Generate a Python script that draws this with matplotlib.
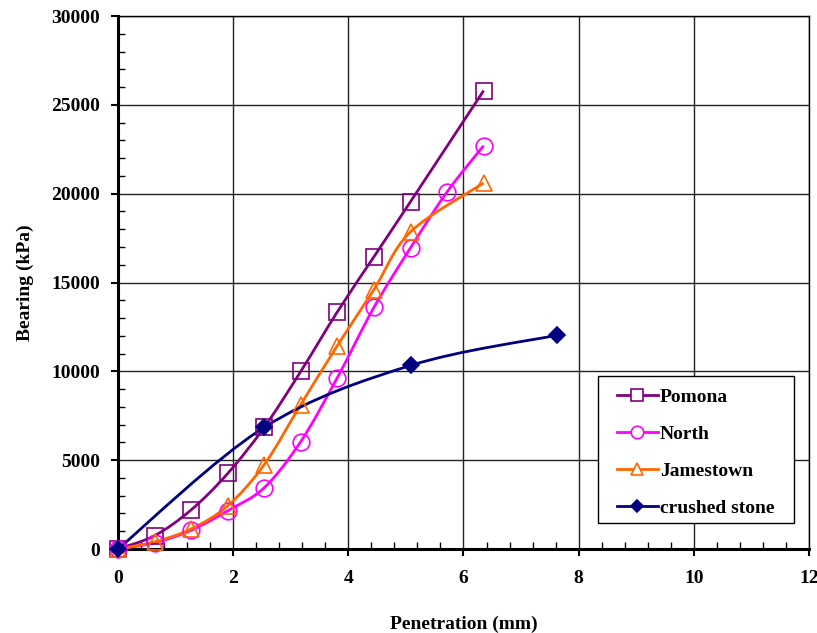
import matplotlib
matplotlib.use("Agg")
import matplotlib.pyplot as plt
from matplotlib.path import Path
from matplotlib.patches import PathPatch, Rectangle
from matplotlib.lines import Line2D
from matplotlib.ticker import MultipleLocator

# ---- data ----
pomona_x = [0, 0.635, 1.27, 1.905, 2.54, 3.175, 3.81, 4.445, 5.08, 6.35]
pomona_y = [0, 750, 2200, 4250, 6850, 10000, 13350, 16450, 19550, 25800]

north_x = [0, 0.635, 1.27, 1.905, 2.54, 3.175, 3.81, 4.445, 5.08, 5.715, 6.35]
north_y = [0, 350, 1050, 2150, 3450, 6050, 9650, 13600, 16950, 20100, 22700]

james_x = [0, 0.635, 1.27, 1.905, 2.54, 3.175, 3.81, 4.445, 5.08, 6.35]
james_y = [0, 400, 1130, 2430, 4750, 8130, 11450, 14600, 17850, 20600]

stone_x = [0, 2.54, 5.08, 7.62]
stone_y = [0, 6850, 10330, 12030]

series_names = ["Pomona", "North", "Jamestown", "crushed stone"]
x_label = "Penetration (mm)"
y_label = "Bearing (kPa)"

plt.rcParams['font.family'] = ['Liberation Serif', 'DejaVu Serif']
plt.rcParams['font.weight'] = 'bold'

FS = 14


def smooth_path(xs, ys):
    pts = list(zip(xs, ys))
    n = len(pts)
    verts = [pts[0]]
    codes = [Path.MOVETO]
    for i in range(n - 1):
        p0 = pts[i - 1] if i > 0 else pts[i]
        p1 = pts[i]
        p2 = pts[i + 1]
        p3 = pts[i + 2] if i + 2 < n else pts[i + 1]
        c1 = (p1[0] + (p2[0] - p0[0]) / 6.0, p1[1] + (p2[1] - p0[1]) / 6.0)
        c2 = (p2[0] - (p3[0] - p1[0]) / 6.0, p2[1] - (p3[1] - p1[1]) / 6.0)
        verts += [c1, c2, p2]
        codes += [Path.CURVE4] * 3
    return Path(verts, codes)


fig = plt.figure(figsize=(8.17, 6.33), dpi=100)
ax = fig.add_axes([0.1444, 0.1327, 0.8458, 0.842])

ax.set_xlim(0, 12)
ax.set_ylim(0, 30000)
ax.xaxis.set_major_locator(MultipleLocator(2))
ax.xaxis.set_minor_locator(MultipleLocator(0.4))
ax.yaxis.set_major_locator(MultipleLocator(5000))
ax.yaxis.set_minor_locator(MultipleLocator(1000))
ax.grid(True, which='major', color='#222222', linewidth=1.0)
ax.set_axisbelow(True)

for s in ax.spines.values():
    s.set_linewidth(1.0)
ax.spines['bottom'].set_linewidth(2.2)
ax.spines['left'].set_linewidth(2.2)

ax.tick_params(which='major', direction='out', length=5, width=1.5, labelsize=FS, pad=8)
ax.tick_params(axis='x', which='major', pad=10)
ax.tick_params(which='minor', direction='in', length=5, width=1.0)
for lab in ax.get_xticklabels() + ax.get_yticklabels():
    lab.set_fontweight('bold')

styles = [
    (pomona_x, pomona_y, '#800080', 's', 'none', 12),
    (north_x, north_y, '#FF00FF', 'o', 'none', 12),
    (james_x, james_y, '#FF6600', '^', 'none', 12),
    (stone_x, stone_y, '#000080', 'D', '#000080', 8),
]

handles = []
for (xs, ys, col, mk, fc, ms), name in zip(styles, series_names):
    patch = PathPatch(smooth_path(xs, ys), fill=False, edgecolor=col, linewidth=2.0, zorder=3)
    ax.add_patch(patch)
    ax.plot(xs, ys, linestyle='none', marker=mk, markersize=ms, markerfacecolor=fc,
            markeredgecolor=col, markeredgewidth=1.2, zorder=4, clip_on=False)
    handles.append(Line2D([], [], color=col, linewidth=2.0, marker=mk, markersize=ms * 0.75,
                          markerfacecolor=fc if fc != 'none' else 'white', markeredgecolor=col,
                          markeredgewidth=1.2))

# legend box drawn separately for exact placement
box = Rectangle((0.6946, 0.0488), 0.2836, 0.2758, transform=ax.transAxes, facecolor='white',
                edgecolor='black', linewidth=1.0, zorder=5)
ax.add_patch(box)

leg = ax.legend(handles, series_names, loc='upper left', bbox_to_anchor=(0.7221, 0.302),
                borderaxespad=0, borderpad=0, frameon=False,
                labelspacing=1.0, handlelength=2.1, handletextpad=0.1,
                prop={'family': 'Liberation Serif', 'weight': 'bold', 'size': FS})
leg.set_zorder(6)

ax.set_xlabel(x_label, fontsize=FS, fontweight='bold', labelpad=21)
ax.set_ylabel(y_label, fontsize=FS, fontweight='bold', labelpad=12)

fig.savefig("out.png", dpi=100)
